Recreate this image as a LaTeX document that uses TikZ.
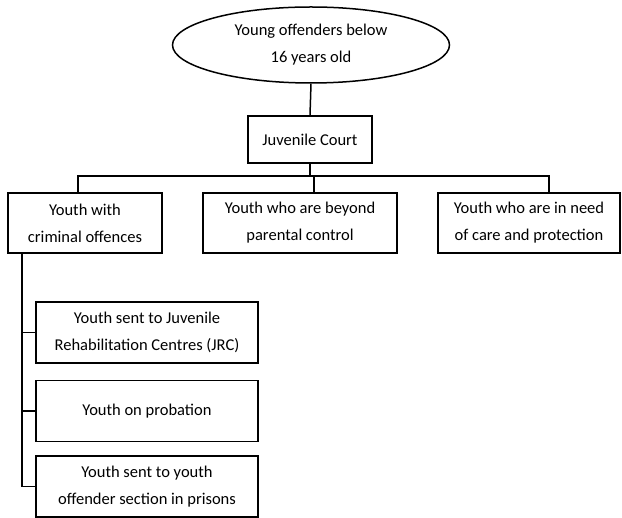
\documentclass[tikz,border=0pt]{standalone}
\usepackage{fontspec}
\setmainfont{Carlito}
\usetikzlibrary{shapes.geometric}
\tikzset{
  boxnode/.style={draw, line width=1.5pt, align=center, inner sep=0pt, font=\fontsize{16.5}{27}\selectfont},
  ovalnode/.style={boxnode, ellipse},
  link/.style={line width=1.5pt}
}

\begin{document}
\begin{tikzpicture}[x=1pt, y=1pt]
    \useasboundingbox (0,0) rectangle (622,-518);
    \node[ovalnode, minimum width=277, minimum height=76] (top) at (311,-45) {Young offenders below\\16 years old};
    \node[boxnode, minimum width=124, minimum height=47] (jc) at (310,-139.5) {Juvenile Court};
    \node[boxnode, minimum width=154, minimum height=60] (b1) at (85,-223) {Youth with\\criminal offences};
    \node[boxnode, minimum width=194, minimum height=60] (b2) at (300,-223) {Youth who are beyond\\parental control};
    \node[boxnode, minimum width=182, minimum height=60] (b3) at (529,-223) {Youth who are in need\\of care and protection};
    \node[boxnode, minimum width=222, minimum height=61] (s1) at (147,-332.5) {Youth sent to Juvenile\\Rehabilitation Centres (JRC)};
    \node[boxnode, minimum width=222, minimum height=61] (s2) at (147,-411) {Youth on probation};
    \node[boxnode, minimum width=222, minimum height=61] (s3) at (147,-486.5) {Youth sent to youth\\offender section in prisons};
    \draw[link] (top.south) -- (jc.north);
    \draw[link] ([xshift=-7]b1.north) -- ++(0,16) coordinate (bar) -| ([xshift=20]b3.north);
    \draw[link] (jc.south) -- (jc.south |- bar);
    \draw[link] ([xshift=14]b2.north) -- ([xshift=14]b2.north |- bar);
    \coordinate (spine) at ([xshift=-63]b1.south);
    \draw[link] (spine) |- (s3.west);
    \foreach \n in {s1,s2}
      \draw[link] (\n.west) -- (\n.west -| spine);
  \end{tikzpicture}
\end{document}
